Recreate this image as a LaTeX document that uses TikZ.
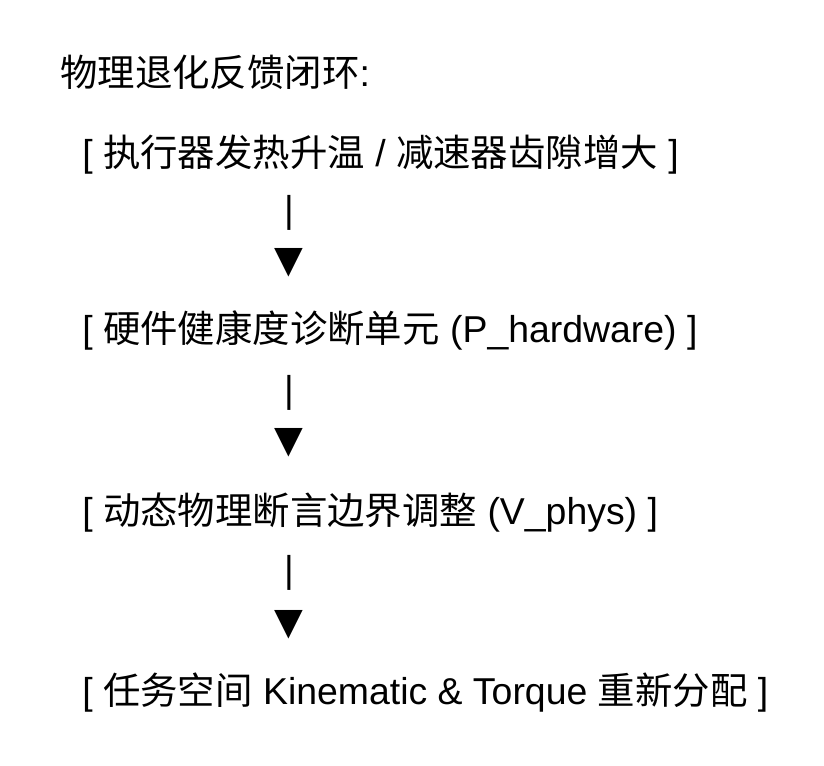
\documentclass[tikz,border=0pt]{standalone}
\usepackage{fontspec}
\setmainfont{Liberation Sans}
\newfontfamily\cjk{Noto Sans CJK SC}
\newfontfamily\sym{DejaVu Sans}
\newcommand{\zh}[1]{{\cjk #1}}
\tikzset{
  line/.style={anchor=west, inner sep=0pt, font=\fontsize{26.6}{31}\selectfont},
  glyph/.style={inner sep=0pt, font=\fontsize{26.6}{31}\selectfont}
}
\begin{document}
\begin{tikzpicture}[x=0.025cm,y=-0.025cm]
  \useasboundingbox (0,0) rectangle (824,766);
  \node (title) [line] at (60,72) {\zh{物理退化反馈闭环}:};
  %
  \node (heat) [line] at (82,155) {[ \zh{执行器发热升温} / \zh{减速器齿隙增大} ]};
  \node (bar1) [glyph] at (289,213) {|};
  \node (tip1) [glyph] at (289,263) {\sym ▼};
  %
  \node (diag) [line] at (82,330) {[ \zh{硬件健康度诊断单元} (P\_hardware) ]};
  \node (bar2) [glyph] at (289,393) {|};
  \node (tip2) [glyph] at (289,443) {\sym ▼};
  %
  \node (phys) [line] at (82,513) {[ \zh{动态物理断言边界调整} (V\_phys) ]};
  \node (bar3) [glyph] at (289,573) {|};
  \node (tip3) [glyph] at (289,625) {\sym ▼};
  %
  \node (task) [line] at (82,693) {[ \zh{任务空间} Kinematic \& Torque \zh{重新分配} ]};
\end{tikzpicture}
\end{document}
